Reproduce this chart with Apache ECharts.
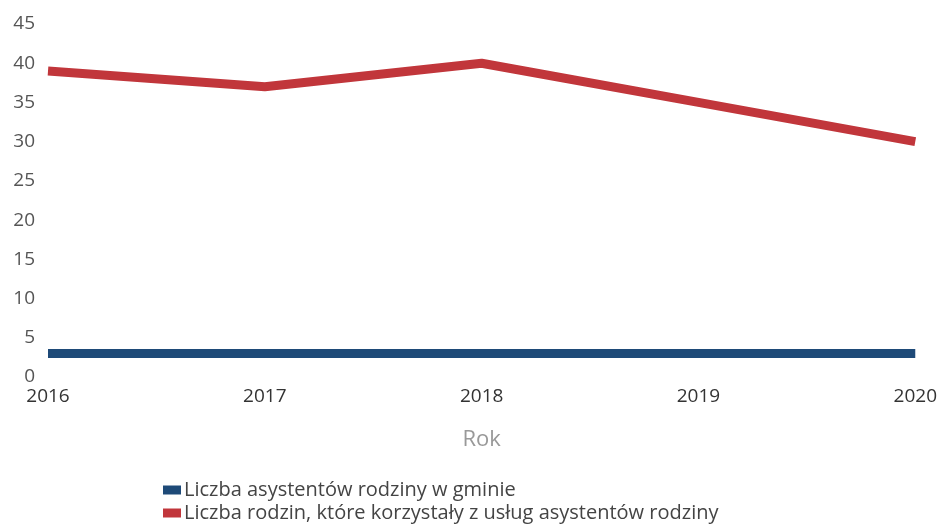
<!DOCTYPE html>
<html>
<head>
<meta charset="utf-8">
<script src="https://cdn.jsdelivr.net/npm/echarts@6/dist/echarts.min.js"></script>
<style>
    html, body { margin: 0; padding: 0; background: #fff; }
    #chart { width: 940px; height: 525px; }
</style>
</head>
<body>
<div id="chart"></div>
<script>
const years = ["2016", "2017", "2018", "2019", "2020"];
const asystenci = [3, 3, 3, 3, 3];
const rodziny = [39, 37, 40, 35, 30];
const seriesNames = [
    "Liczba asystentów rodziny w gminie",
    "Liczba rodzin, które korzystały z usług asystentów rodziny"
];

// one legend per row, stacked like the original
const legendBase = {
    left: 158,
    itemWidth: 18,
    itemHeight: 9,
    icon: "rect",
    textStyle: { fontSize: 20, color: "#444", padding: [0, 0, 0, -2] }
};

const chart = echarts.init(document.getElementById("chart"));
chart.setOption({
    animation: false,
    textStyle: { fontFamily: "Open Sans" },
    color: ["#1E4A78", "#C1363B"],
    grid: { left: 48, right: 24, top: 24, bottom: 148 },
    legend: [
        Object.assign({ top: 475, data: [seriesNames[0]] }, legendBase),
        Object.assign({ top: 498, data: [seriesNames[1]] }, legendBase)
    ],
    xAxis: {
        type: "category",
        boundaryGap: false,
        data: years,
        name: "Rok",
        nameLocation: "middle",
        nameGap: 52,
        nameTextStyle: { fontSize: 22, color: "#999" },
        axisLine: { show: false },
        axisTick: { show: false },
        axisLabel: { fontSize: 19, color: "#333", margin: 10 }
    },
    yAxis: {
        type: "value",
        min: 0,
        max: 45,
        interval: 5,
        splitLine: { show: false },
        axisLine: { show: false },
        axisTick: { show: false },
        axisLabel: { fontSize: 19, color: "#555", margin: 13 }
    },
    series: [
        {
            name: seriesNames[0],
            type: "line",
            data: asystenci,
            showSymbol: false,
            lineStyle: { width: 9 }
        },
        {
            name: seriesNames[1],
            type: "line",
            data: rodziny,
            showSymbol: false,
            lineStyle: { width: 9 }
        }
    ]
});
</script>
</body>
</html>
